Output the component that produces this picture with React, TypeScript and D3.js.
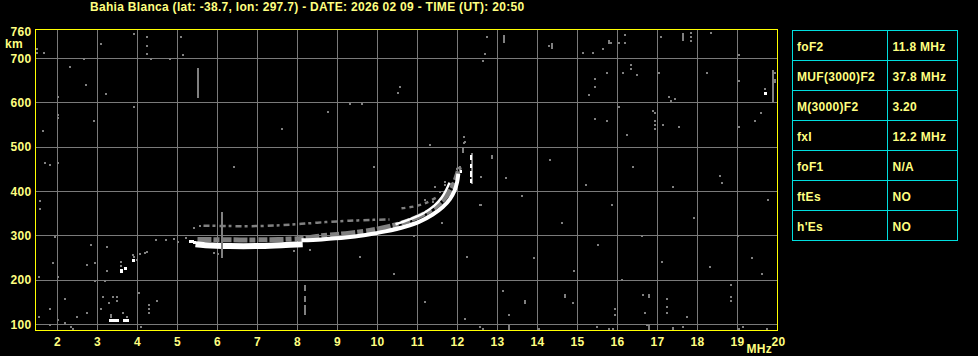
import React, { useEffect } from "react";
import * as d3 from "d3";

const W = 978;
const H = 356;

const title = "Bahia Blanca (lat: -38.7, lon: 297.7) - DATE: 2026 02 09 - TIME (UT): 20:50";
const freqGrid = [2, 3, 4, 5, 6, 7, 8, 9, 10, 11, 12, 13, 14, 15, 16, 17, 18, 19];
const freqLabels = [2, 3, 4, 5, 6, 7, 8, 9, 10, 11, 12, 13, 14, 15, 16, 17, 18, 19, 20];
const heightGrid = [100, 200, 300, 400, 500, 600, 700];
const heightLabels = [760, 700, 600, 500, 400, 300, 200, 100];
const tableLabels = ["foF2", "MUF(3000)F2", "M(3000)F2", "fxI", "foF1", "ftEs", "h'Es"];
const tableValues = ["11.8 MHz", "37.8 MHz", "3.20", "12.2 MHz", "N/A", "NO", "NO"];

// traces [MHz, km]
const whiteLow: [number, number][] = [[5.45, 281], [5.7, 279], [6.3, 277], [7.0, 277], [7.6, 279], [8.13, 281]];
const whiteMain: [number, number][] = [[8.1, 290], [8.6, 292], [9.2, 296], [9.7, 302], [10.2, 310], [10.7, 321], [11.05, 332], [11.38, 348], [11.63, 365], [11.81, 383], [11.93, 403], [11.99, 421], [12.02, 440]];
const whiteSecond: [number, number][] = [[10.45, 326], [10.8, 337], [11.15, 351], [11.42, 368], [11.6, 386], [11.72, 404], [11.8, 420]];
const grayBand: [number, number][] = [[5.5, 292], [6.3, 291], [7.1, 291], [8.1, 294], [8.6, 300], [9.2, 305], [9.8, 312], [10.3, 321], [10.8, 335], [11.2, 351], [11.5, 369], [11.75, 393], [11.92, 420], [12.05, 455]];
const grayUpper1: [number, number][] = [[5.65, 323], [6.3, 322], [7.0, 322], [7.6, 324], [8.1, 327], [8.7, 331], [9.3, 334], [9.9, 336], [10.3, 337]];
const grayUpper2: [number, number][] = [[10.6, 362], [10.9, 366], [11.2, 374], [11.5, 388]];

// scattered echoes [MHz, km]
const noiseGray: [number, number][] = [
  [1.475, 722], [1.475, 713], [1.67, 712], [2.67, 699], [3.08, 732], [3.92, 755], [4.23, 748], [4.23, 728], [4.23, 710], [4.33, 699], [4.82, 699], [5.08, 748], [5.13, 707],
  [1.625, 537], [1.68, 465], [1.825, 459], [1.575, 378], [1.575, 361], [1.93, 298], [1.875, 239], [1.53, 207], [1.825, 135], [1.53, 117], [1.825, 99],
  [2.015, 613], [2.015, 572], [2.015, 565], [2.015, 465], [2.015, 207], [2.015, 110],
  [2.18, 158], [2.18, 104], [2.325, 95], [2.375, 90], [2.48, 117], [2.73, 126], [2.93, 198], [3.08, 135], [3.13, 162], [3.18, 198], [3.28, 149], [3.38, 162], [3.48, 162], [3.48, 153], [3.33, 122], [3.33, 117], [3.73, 117], [3.63, 126], [4.03, 171], [4.08, 95], [4.28, 144], [4.28, 135], [4.28, 126], [4.48, 153],
  [3.225, 275], [2.825, 280], [2.725, 234], [2.93, 239], [3.225, 221], [3.58, 232], [3.58, 240], [3.88, 256], [3.98, 245], [4.06, 260], [4.18, 262], [4.23, 264], [3.9, 252],
  [8.76, 579], [9.31, 597], [9.61, 597], [10.51, 622], [10.55, 636], [2.3, 680], [2.7, 640], [3.2, 620], [2.9, 560], [3.9, 590],
  [12.73, 748], [12.68, 710], [12.63, 695], [14.28, 728],
  [15.13, 713], [15.38, 713], [15.63, 722], [15.78, 740], [15.78, 735], [15.83, 735], [16.03, 735], [16.18, 753], [16.18, 735], [17.08, 749], [17.83, 757], [17.83, 749], [17.83, 740], [18.33, 758], [19.03, 708],
  [16.33, 686], [16.33, 676], [16.48, 663], [16.13, 668], [15.73, 668], [15.43, 654], [15.43, 636], [15.28, 618], [17.03, 668], [18.23, 668], [19.03, 650], [17.28, 613], [17.33, 604], [17.43, 609], [19.68, 632], [19.93, 668], [19.93, 652], [19.93, 648],
  [16.03, 591], [16.88, 582], [16.93, 577], [16.93, 559], [16.93, 550], [16.93, 541], [17.13, 550], [17.53, 546], [15.43, 564], [15.73, 559], [16.23, 528], [19.03, 546], [19.43, 559], [19.58, 577],
  [12.56, 95], [12.63, 90], [13.13, 176], [13.28, 122], [13.68, 153], [13.68, 149], [14.03, 90], [14.68, 167], [14.68, 162], [14.88, 149], [15.48, 95], [15.78, 90], [15.88, 90], [15.93, 135], [15.93, 122], [16.63, 167], [16.68, 126], [16.78, 167], [16.78, 162], [16.73, 99], [17.23, 158], [17.23, 140], [17.23, 126], [17.63, 95], [17.73, 117], [18.83, 189], [18.83, 162], [18.83, 153], [19.03, 90], [19.13, 95], [19.73, 90], [12.18, 113],
  [12.18, 512], [12.58, 369], [12.23, 252], [9.56, 252],
  [13.2, 430], [13.6, 390], [13.9, 250], [14.3, 470], [14.6, 330], [14.9, 220], [15.2, 415], [15.5, 280], [15.85, 370], [16.1, 200], [16.4, 455], [16.6, 300], [17.1, 240], [17.4, 410], [17.9, 340], [18.3, 230], [18.55, 435], [18.6, 420], [19.0, 300], [19.35, 250], [19.6, 215], [19.75, 380],
  [6.4, 455], [7.6, 540], [9.9, 455], [11.3, 505], [10.4, 215], [11.2, 150],
  [4.45, 290], [4.7, 290], [4.9, 292], [5.0, 285], [5.2, 295], [5.4, 318], [5.55, 322], [5.9, 262], [6.0, 258], [7.9, 266], [8.3, 268],
  [12.17, 523], [12.17, 510], [11.99, 451], [11.68, 422], [11.68, 414], [11.84, 418], [11.43, 410], [11.18, 380], [11.39, 376], [11.56, 399], [12.58, 433], [12.55, 369], [10.9, 300], [11.6, 330]
];
// vertical streaks [MHz, km from, km to]
const streaksGray: [number, number, number][] = [
  [5.51, 610, 678], [6.12, 250, 354], [13.17, 735, 753], [14.36, 722, 735], [17.63, 740, 758], [19.88, 600, 674],
  [8.18, 175, 188], [8.18, 150, 165], [8.18, 122, 145], [13.28, 88, 99], [16.78, 88, 99], [17.38, 88, 95],
  [12.13, 486, 501], [12.36, 418, 486], [12.06, 441, 458], [12.85, 474, 482]
];
const streaksWhite: [number, number, number][] = [[12.33, 470, 482], [12.33, 452, 462], [12.33, 432, 446], [12.33, 420, 428], [12.08, 441, 448]];
const noiseWhite: [number, number][] = [
  [3.3, 110], [3.36, 110], [3.42, 110], [3.48, 110], [3.66, 110], [3.74, 110], [3.575, 220], [3.575, 224], [3.68, 228], [3.875, 246], [19.68, 622],
  [5.3, 289], [5.36, 289], [5.42, 285]
];

const x = d3.scaleLinear().domain([2, 19]).range([57.5, 737.5]);
const y = d3.scaleLinear().domain([100, 700]).range([324.5, 58.5]);

const FL = x(1.45);
const FR = x(20);
const FT = 29.5;
const FB = 330.5;

const TEXT = "#ffff80";
const GRID = "#7a7a7a";
const NOISE = "#808080";
const FONT = "'Liberation Sans', Arial, sans-serif";
const FS = 12;
const LS = 0.3;

const line = d3
  .line<[number, number]>()
  .x((d) => x(d[0]))
  .y((d) => y(d[1]))
  .curve(d3.curveCatmullRom);

export default function App() {
  useEffect(() => {
    document.body.style.margin = "0";
    document.body.style.background = "#000";
  }, []);

  const tx = 792.5;
  const ty = 30.5;
  const rowH = 30;
  const colX = 887.5;
  const tw = 165;

  return (
    <svg width={W} height={H} style={{ display: "block", position: "absolute", left: 0, top: 0 }} fontFamily={FONT}>
      <rect x={0} y={0} width={W} height={H} fill="#000" />
      <text x={90} y={11} fill={TEXT} fontSize={FS} fontWeight="bold" letterSpacing={LS}>{title}</text>

      {/* grid */}
      <g stroke={GRID} strokeWidth={1} shapeRendering="crispEdges">
        {freqGrid.map((f) => (
          <line key={"v" + f} x1={x(f)} x2={x(f)} y1={FT} y2={FB} />
        ))}
        {heightGrid.map((h) => (
          <line key={"h" + h} x1={FL} x2={FR} y1={y(h)} y2={y(h)} />
        ))}
      </g>

      {/* echoes */}
      <path d={line(grayBand) || ""} fill="none" stroke={NOISE} strokeWidth={5} strokeDasharray="14 2 6 3 9 2" />
      <path d={line(grayUpper1) || ""} fill="none" stroke={NOISE} strokeWidth={2.5} strokeDasharray="6 3 3 4" />
      <path d={line(grayUpper2) || ""} fill="none" stroke={NOISE} strokeWidth={2.5} strokeDasharray="4 4" />
      <path d={line(whiteLow) || ""} fill="none" stroke="#fff" strokeWidth={6} />
      <path d={line(whiteMain) || ""} fill="none" stroke="#fff" strokeWidth={4} />
      <path d={line(whiteSecond) || ""} fill="none" stroke="#fff" strokeWidth={2.5} />

      <g fill={NOISE} shapeRendering="crispEdges">
        {noiseGray.map((d, i) => (
          <rect key={"n" + i} x={Math.round(x(d[0])) - 1} y={Math.round(y(d[1])) - 1} width={2} height={2} />
        ))}
        {streaksGray.map((d, i) => (
          <rect key={"s" + i} x={Math.round(x(d[0])) - 1} y={y(d[2])} width={2} height={y(d[1]) - y(d[2])} />
        ))}
      </g>
      <g fill="#fff" shapeRendering="crispEdges">
        {streaksWhite.map((d, i) => (
          <rect key={"ws" + i} x={Math.round(x(d[0])) - 1} y={y(d[2])} width={2} height={y(d[1]) - y(d[2])} />
        ))}
        {noiseWhite.map((d, i) => (
          <rect key={"w" + i} x={Math.round(x(d[0])) - 1} y={Math.round(y(d[1])) - 1} width={3} height={3} />
        ))}
      </g>

      {/* frame */}
      <rect x={FL} y={FT} width={FR - FL} height={FB - FT} fill="none" stroke="#ffff00" strokeWidth={1.5} shapeRendering="crispEdges" />

      {/* axis labels */}
      <g fill={TEXT} fontSize={FS} fontWeight="bold" letterSpacing={LS}>
        {heightLabels.map((h) => (
          <text key={"yl" + h} x={31.5} y={y(h)} textAnchor="end" dominantBaseline="central">{h}</text>
        ))}
        <text x={5} y={48}>km</text>
        {freqLabels.map((f) => (
          <text key={"xl" + f} x={f === 20 ? x(f) + 1 : x(f)} y={345.5} textAnchor="middle">{f}</text>
        ))}
        <text x={772} y={352.5} textAnchor="end">MHz</text>
      </g>

      {/* parameter table */}
      <g stroke="#00dede" strokeWidth={1} fill="none" shapeRendering="crispEdges">
        <rect x={tx} y={ty} width={tw} height={rowH * tableLabels.length} />
        <line x1={colX} x2={colX} y1={ty} y2={ty + rowH * tableLabels.length} />
        {tableLabels.slice(1).map((_, i) => (
          <line key={"r" + i} x1={tx} x2={tx + tw} y1={ty + rowH * (i + 1)} y2={ty + rowH * (i + 1)} />
        ))}
      </g>
      <g fill={TEXT} fontSize={FS} fontWeight="bold" letterSpacing={LS}>
        {tableLabels.map((l, i) => (
          <text key={"tl" + i} x={797} y={ty + rowH * i + 20}>{l}</text>
        ))}
        {tableValues.map((v, i) => (
          <text key={"tv" + i} x={892.5} y={ty + rowH * i + 20}>{v}</text>
        ))}
      </g>
    </svg>
  );
}
